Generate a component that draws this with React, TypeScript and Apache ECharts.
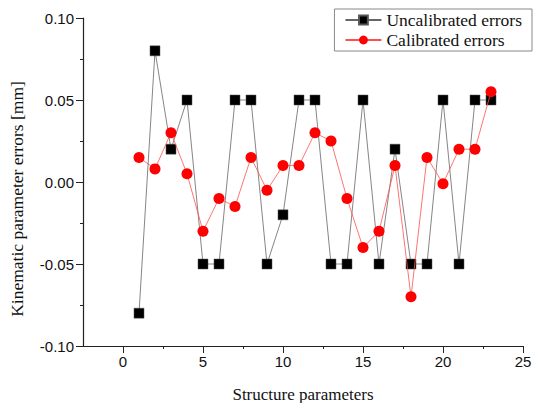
import React, { useEffect, useRef } from "react";
import * as echarts from "echarts";

const xValues = [1, 2, 3, 4, 5, 6, 7, 8, 9, 10, 11, 12, 13, 14, 15, 16, 17, 18, 19, 20, 21, 22, 23];
const uncalibrated = [-0.08, 0.08, 0.02, 0.05, -0.05, -0.05, 0.05, 0.05, -0.05, -0.02, 0.05, 0.05, -0.05, -0.05, 0.05, -0.05, 0.02, -0.05, -0.05, 0.05, -0.05, 0.05, 0.05];
const calibrated = [0.015, 0.008, 0.03, 0.005, -0.03, -0.01, -0.015, 0.015, -0.005, 0.01, 0.01, 0.03, 0.025, -0.01, -0.04, -0.03, 0.01, -0.07, 0.015, -0.001, 0.02, 0.02, 0.055];
const xTickLabels = [0, 5, 10, 15, 20, 25];
const xMinorTicks = [2.5, 7.5, 12.5, 17.5, 22.5];

const serif = "'Liberation Serif', 'Times New Roman', serif";
const sans = "'Liberation Sans', Arial, sans-serif";

export default function App() {
  const ref = useRef<HTMLDivElement>(null);
  useEffect(() => {
    const chart = echarts.init(ref.current!, null, { renderer: "svg" });
    chart.setOption({
      animation: false,
      backgroundColor: "#ffffff",
      grid: { left: 83, top: 18, right: 11, bottom: 57, outerBoundsMode: "none" },
      legend: {
        right: 2,
        top: 9,
        orient: "vertical",
        backgroundColor: "#ffffff",
        borderColor: "#888888",
        borderWidth: 1,
        borderRadius: 0,
        padding: [2, 10, 2, 10],
        itemGap: 2,
        itemWidth: 36,
        itemHeight: 11,
        textStyle: { fontFamily: serif, fontSize: 17.5, color: "#111" },
        data: ["Uncalibrated errors", "Calibrated errors"],
      },
      graphic: [
        {
          type: "text",
          x: 17,
          y: 199,
          rotation: Math.PI / 2,
          style: {
            text: "Kinematic parameter errors [mm]",
            font: "17.5px " + serif,
            fill: "#111",
            align: "center",
            verticalAlign: "middle",
          },
        },
      ],
      xAxis: [
        {
          type: "value",
          min: -2.5,
          max: 25,
          name: "Structure parameters",
          nameLocation: "middle",
          nameGap: 40,
          nameTextStyle: { fontFamily: serif, fontSize: 17, color: "#111" },
          axisLine: { show: true, onZero: false, lineStyle: { color: "#222", width: 1.2 } },
          axisTick: { show: true, inside: false, length: 7, customValues: xTickLabels, lineStyle: { color: "#222" } },
          axisLabel: { customValues: xTickLabels, fontFamily: sans, fontSize: 15, color: "#111", margin: 8 },
          splitLine: { show: false },
        },
        {
          type: "value",
          min: -2.5,
          max: 25,
          position: "bottom",
          offset: 0,
          axisLine: { show: false, onZero: false },
          axisTick: { show: true, inside: false, length: 3, customValues: xMinorTicks, lineStyle: { color: "#222" } },
          axisLabel: { show: false },
          splitLine: { show: false },
        },
      ],
      yAxis: {
        type: "value",
        min: -0.1,
        max: 0.1,
        interval: 0.05,
        axisLine: { show: true, onZero: false, lineStyle: { color: "#222", width: 1.2 } },
        axisTick: { show: true, inside: false, length: 7, lineStyle: { color: "#222" } },
        minorTick: { show: true, splitNumber: 2, length: 3, lineStyle: { color: "#222" } },
        axisLabel: {
          fontFamily: sans,
          fontSize: 15,
          color: "#111",
          margin: 9,
          formatter: (v: number) => v.toFixed(2),
        },
        splitLine: { show: false },
      },
      series: [
        {
          name: "Uncalibrated errors",
          type: "line",
          xAxisIndex: 0,
          data: xValues.map((x, i) => [x, uncalibrated[i]]),
          symbol: "rect",
          symbolSize: 10,
          itemStyle: { color: "#000000", borderColor: "#555", borderWidth: 0.5 },
          lineStyle: { color: "#666666", width: 0.8 },
          z: 2,
        },
        {
          name: "Calibrated errors",
          type: "line",
          xAxisIndex: 0,
          data: xValues.map((x, i) => [x, calibrated[i]]),
          symbol: "circle",
          symbolSize: 11,
          itemStyle: { color: "#ff0000" },
          lineStyle: { color: "#ff5050", width: 0.8 },
          z: 3,
        },
      ],
    });
    return () => chart.dispose();
  }, []);
  return <div ref={ref} style={{ position: "absolute", left: 0, top: 0, width: 534, height: 403 }} />;
}
